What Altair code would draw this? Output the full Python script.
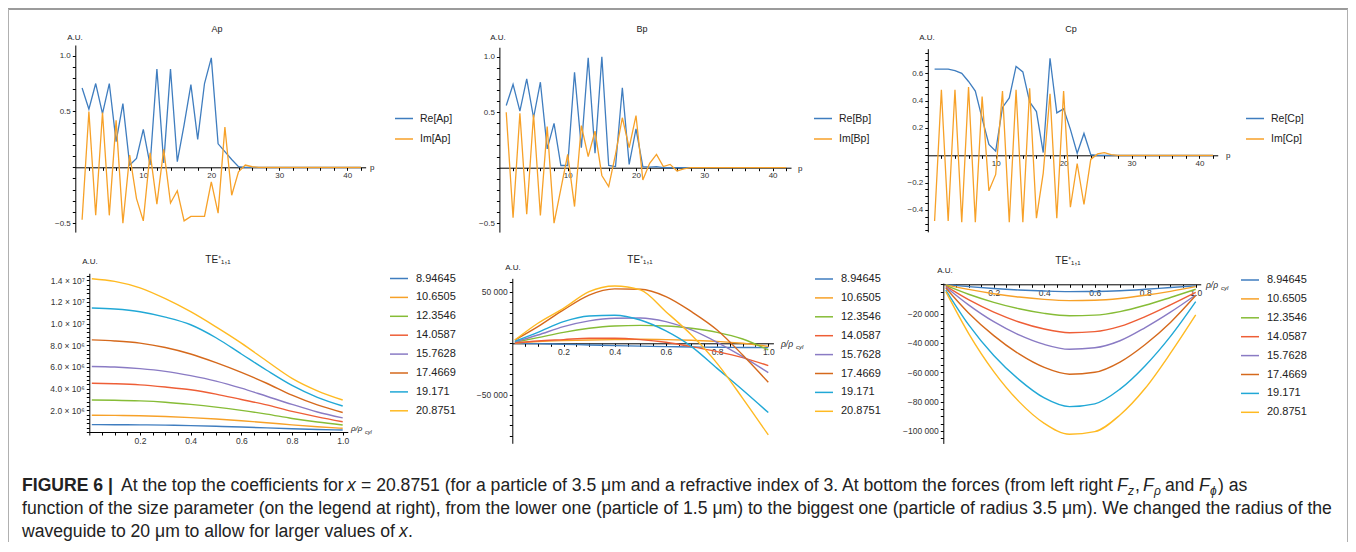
import altair as alt
import pandas as pd

FONT = "Liberation Sans"
W, H = 1340, 534

# ---------------- top row data: coefficients vs p ----------------
p = list(range(1, 43))
ap_re = [0.71, 0.52, 0.75, 0.48, 0.75, 0.23, 0.57, 0.02, 0.08, 0.34,
         0.02, 0.88, 0.04, 0.88, 0.05, 0.38, 0.74, 0.25, 0.75, 0.98,
         0.21, 0.14, 0.07, 0.005, 0, 0, 0, 0, 0, 0,
         0, 0, 0, 0, 0, 0, 0, 0, 0, 0, 0, 0]
ap_im = [-0.47, 0.50, -0.43, 0.49, -0.43, 0.42, -0.50, 0.11, -0.28, -0.48,
         0.13, -0.33, 0.16, -0.32, -0.21, -0.48, -0.44, -0.44, -0.44, -0.13,
         -0.41, 0.36, -0.25, -0.04, 0.02, 0.005, 0, 0, 0, 0,
         0, 0, 0, 0, 0, 0, 0, 0, 0, 0, 0, 0]
bp_re = [0.56, 0.75, 0.51, 0.80, 0.45, 0.77, 0.17, 0.40, 0.02, 0.02,
         0.86, 0.18, 0.99, 0.13, 1.00, 0.02, 0.01, 0.72, 0.03, 0.35,
         0.01, 0.005, 0.01, 0, 0, 0, 0, 0, 0, 0,
         0, 0, 0, 0, 0, 0, 0, 0, 0, 0, 0, 0]
bp_im = [0.50, -0.45, 0.49, -0.42, 0.48, -0.43, 0.37, -0.50, -0.19, 0.12,
         -0.35, 0.38, 0.10, 0.33, -0.07, -0.17, 0.12, 0.45, 0.18, 0.47,
         -0.11, 0.04, 0.12, 0.01, 0.03, -0.03, -0.01, 0, 0, 0,
         0, 0, 0, 0, 0, 0, 0, 0, 0, 0, 0, 0]
cp_re = [0.63, 0.63, 0.63, 0.62, 0.60, 0.54, 0.47, 0.27, 0.08, 0.03,
         0.35, 0.42, 0.65, 0.61, 0.39, 0.32, 0.02, 0.71, 0.31, 0.34,
         0.19, 0.015, 0.16, 0.005, 0, 0, 0, 0, 0, 0,
         0, 0, 0, 0, 0, 0, 0, 0, 0, 0, 0, 0]
cp_im = [-0.48, 0.48, -0.48, 0.48, -0.49, 0.50, -0.49, 0.43, -0.26, -0.14,
         0.47, -0.49, 0.48, -0.49, 0.49, -0.46, -0.13, 0.45, -0.46, 0.47,
         -0.38, -0.06, -0.36, -0.03, 0.01, 0.02, 0.005, 0, 0, 0,
         0, 0, 0, 0, 0, 0, 0, 0, 0, 0, 0, 0]

# ---------------- bottom row data: forces vs rho/rho_cyl ----------------
size_params = ["8.94645", "10.6505", "12.3546", "14.0587",
               "15.7628", "17.4669", "19.171", "20.8751"]
rho = [0.01, 0.1, 0.2, 0.3, 0.4, 0.5, 0.6, 0.7, 0.8, 0.9, 1.0]

# F_z in units of 1e6
fz_1 = [0.68, 0.67, 0.66, 0.63, 0.59, 0.53, 0.46, 0.38, 0.30, 0.23, 0.18]
fz_2 = [1.54, 1.53, 1.50, 1.43, 1.33, 1.20, 1.04, 0.86, 0.66, 0.48, 0.34]
fz_3 = [2.95, 2.93, 2.87, 2.75, 2.55, 2.30, 2.00, 1.65, 1.25, 0.92, 0.65]
fz_4 = [4.50, 4.45, 4.35, 4.15, 3.90, 3.50, 3.00, 2.50, 1.90, 1.40, 0.95]
fz_5 = [6.05, 6.00, 5.85, 5.60, 5.20, 4.70, 4.05, 3.30, 2.55, 1.85, 1.30]
fz_6 = [8.50, 8.40, 8.20, 7.80, 7.20, 6.40, 5.50, 4.50, 3.40, 2.50, 1.80]
fz_7 = [11.45, 11.35, 11.10, 10.60, 9.90, 8.70, 7.20, 5.70, 4.30, 3.20, 2.40]
fz_8 = [14.15, 13.90, 13.30, 12.30, 11.10, 9.70, 8.20, 6.55, 4.95, 3.80, 2.95]

fr_1 = [0, -300, -1000, -1600, -2300, -2800, -3200, -3600, -3900, -4100, -4200]
fr_2 = [0, 1600, 2600, 3200, 3600, 3900, 3600, 2900, 1900, 0, -3000]
fr_3 = [1000, 5500, 10700, 14600, 16900, 17500, 16900, 14600, 10700, 4200, -6500]
fr_4 = [300, 2300, 3600, 4900, 4900, 3600, 1000, -3200, -8100, -14000, -21800]
fr_5 = [1500, 8100, 16200, 21800, 24400, 24700, 21100, 13000, 1000, -13000, -28600]
fr_6 = [3200, 16200, 32500, 47000, 53000, 52600, 45500, 30800, 13000, -11400, -38000]
fr_7 = [2000, 10700, 21100, 26600, 27300, 22700, 12000, -3200, -24400, -45500, -67500]
fr_8 = [3200, 19500, 34000, 50300, 55800, 52000, 30800, 8100, -19500, -53600, -89300]

fp_1 = [-200, -1600, -2900, -3900, -4600, -5000, -4900, -4400, -3400, -2200, -1100]
fp_2 = [-400, -3500, -6400, -8700, -10300, -11100, -10900, -9700, -7500, -4800, -1600]
fp_3 = [-800, -6800, -12300, -16700, -19800, -21400, -21000, -18600, -14300, -9000, -3400]
fp_4 = [-1300, -10500, -19000, -25700, -30500, -33000, -32300, -28700, -22000, -14000, -5500]
fp_5 = [-1800, -14000, -25500, -34500, -41000, -44300, -43300, -38500, -29500, -19000, -7300]
fp_6 = [-2500, -19500, -35000, -47500, -56700, -61300, -60000, -53000, -41000, -26000, -7700]
fp_7 = [-3900, -27500, -48500, -65000, -77500, -83400, -81500, -71500, -55500, -35500, -11800]
fp_8 = [-5000, -33400, -59500, -80000, -94800, -102300, -100500, -89100, -70900, -47000, -20900]

top_colors = ["#3F7DBF", "#F7A128"]
palette = ["#3F7DBF", "#F7A128", "#86BC36", "#EE5E36", "#8A7BC4",
           "#D5691C", "#21A8D6", "#FFBA22"]


def px(v):
    """page pixel -> chart group pixel (page has 8px margin)"""
    return v - 8


def txt(t, x, y, size=9, align="center", weight="normal", style="normal",
        color="#222222", baseline="middle", font=FONT):
    return alt.Chart(pd.DataFrame({"t": [t]})).mark_text(
        align=align, baseline=baseline, fontSize=size, fontWeight=weight,
        fontStyle=style, color=color, font=font
    ).encode(x=alt.value(px(x)), y=alt.value(px(y)), text="t:N")


def axis_common():
    return dict(domainColor="black", tickColor="black", tickSize=3, grid=False,
                labelFont=FONT, labelColor="#333333", labelOverlap=False,
                labelFlush=False, title=None)


def top_panel(name, re, im, x0, unit_x, y0, unit_y, ydom, yvals, ymaj, legx, legy):
    labels = ["Re[%s]" % name, "Im[%s]" % name]
    df = pd.DataFrame({
        "p": p + p,
        "v": re + im,
        "s": [labels[0]] * len(p) + [labels[1]] * len(p),
    })
    xdom = [0, 42.7]
    xr = [px(x0), px(x0 + xdom[1] * unit_x)]
    yr = [px(y0 - ydom[0] * unit_y), px(y0 - ydom[1] * unit_y)]
    xax = alt.Axis(orient="bottom", offset=-(H - px(y0)),
                   values=list(range(2, 43, 2)),
                   labelExpr="datum.value % 10 === 0 ? datum.label : ''",
                   labelFontSize=8, labelPadding=1, **axis_common())
    yax = alt.Axis(orient="left", offset=-px(x0), values=yvals,
                   labelExpr="abs(datum.value/%s - round(datum.value/%s)) < 1e-6 && abs(datum.value) > 1e-9 ? format(datum.value, '.1f') : ''" % (ymaj, ymaj),
                   labelFontSize=8, labelPadding=2, **axis_common())
    return alt.Chart(df).mark_line(strokeWidth=1.3).encode(
        x=alt.X("p:Q", scale=alt.Scale(domain=xdom, range=xr, nice=False, zero=False), axis=xax),
        y=alt.Y("v:Q", scale=alt.Scale(domain=ydom, range=yr, nice=False, zero=False), axis=yax),
        color=alt.Color("s:N", scale=alt.Scale(domain=labels, range=top_colors),
                        legend=alt.Legend(orient="none", legendX=px(legx), legendY=px(legy),
                                          title=None, symbolType="stroke", symbolSize=324,
                                          symbolStrokeWidth=1.5, labelFontSize=10.5,
                                          labelFont=FONT, labelColor="#222222",
                                          labelOffset=6, rowPadding=4.5, padding=0)),
        order=alt.Order("p:Q"),
    )


def bottom_panel(series, x0, unit_x, y0, unit_y, ydom, yaxis_kw, legx, legy, scale_factor=1.0):
    rows_x, rows_v, rows_s = [], [], []
    for name, vals in zip(size_params, series):
        rows_x += rho
        rows_v += [v * scale_factor for v in vals]
        rows_s += [name] * len(rho)
    df = pd.DataFrame({"r": rows_x, "v": rows_v, "s": rows_s})
    xdom = [0, 1.02]
    xr = [px(x0), px(x0 + xdom[1] * unit_x)]
    yr = [px(y0 - ydom[0] * unit_y), px(y0 - ydom[1] * unit_y)]
    xax = alt.Axis(orient="bottom", offset=-(H - px(y0)),
                   values=[round(0.05 * i, 2) for i in range(1, 21)],
                   labelExpr="abs(datum.value*5 - round(datum.value*5)) < 1e-6 ? format(datum.value, '.1f') : ''",
                   labelFontSize=8.5, labelPadding=1, **axis_common())
    yax = alt.Axis(orient="left", offset=-px(x0), labelFontSize=8.5, labelPadding=2,
                   **yaxis_kw, **axis_common())
    return alt.Chart(df).mark_line(strokeWidth=1.4, interpolate="monotone").encode(
        x=alt.X("r:Q", scale=alt.Scale(domain=xdom, range=xr, nice=False, zero=False), axis=xax),
        y=alt.Y("v:Q", scale=alt.Scale(domain=ydom, range=yr, nice=False, zero=False), axis=yax),
        color=alt.Color("s:N", scale=alt.Scale(domain=size_params, range=palette),
                        legend=alt.Legend(orient="none", legendX=px(legx), legendY=px(legy),
                                          title=None, symbolType="stroke", symbolSize=324,
                                          symbolStrokeWidth=1.5, labelFontSize=11,
                                          labelFont=FONT, labelColor="#222222",
                                          labelOffset=7, rowPadding=3.9, padding=0)),
        order=alt.Order("r:Q"),
    )


ap = top_panel("Ap", ap_re, ap_im, 75.3, 6.8, 167.3, 111.7, [-0.58, 1.095],
               [round(0.1 * i, 2) for i in range(-5, 11)], 0.5, 394, 108.5)
bp = top_panel("Bp", bp_re, bp_im, 499.4, 6.83, 167.7, 111.0, [-0.58, 1.085],
               [round(0.1 * i, 2) for i in range(-5, 11)], 0.5, 813, 108.5)
cp = top_panel("Cp", cp_re, cp_im, 927.8, 6.79, 155.3, 136.7, [-0.56, 0.78],
               [round(0.05 * i, 2) for i in range(-11, 16)], 0.2, 1245, 108.5)

fz_axis = dict(values=[i * 400000 for i in range(0, 37)],
               labelExpr="datum.value > 0 && round(datum.value/100000) % 20 === 0 ? (datum.value >= 1e7 ? format(datum.value/1e7, '.1f') + ' × 10⁷' : format(datum.value/1e6, '.1f') + ' × 10⁶') : ''")
fr_axis = dict(values=[i * 10000 for i in range(-9, 7)],
               labelExpr="datum.value !== 0 && round(datum.value/10000) % 5 === 0 ? replace(format(datum.value, ','), ',', ' ') : ''")
fp_axis = dict(values=[i * 5000 for i in range(-21, 1)],
               labelExpr="datum.value !== 0 && round(datum.value/5000) % 4 === 0 ? replace(format(datum.value, ','), ',', ' ') : ''")

fz_panel = bottom_panel([fz_1, fz_2, fz_3, fz_4, fz_5, fz_6, fz_7, fz_8],
                        89.3, 253.4, 432.0, 10.835e-6, [-0.28e6, 14.65e6], fz_axis,
                        389, 268.5, scale_factor=1e6)
fr_panel = bottom_panel([fr_1, fr_2, fr_3, fr_4, fr_5, fr_6, fr_7, fr_8],
                        512.3, 256.0, 343.3, 51.33 / 50000, [-97400, 63300], fr_axis,
                        814, 269)
fp_panel = bottom_panel([fp_1, fp_2, fp_3, fp_4, fp_5, fp_6, fp_7, fp_8],
                        943.3, 252.4, 284.3, 29.33 / 20000, [-108500, 800], fp_axis,
                        1240, 270)

TE = "TE⁺₁,₁"
texts = [
    txt("Ap", 217, 29, size=9), txt("Bp", 642, 29, size=9), txt("Cp", 1071, 29, size=9),
    txt("A.U.", 75, 38, size=8), txt("A.U.", 498, 38, size=8), txt("A.U.", 927, 38, size=8),
    txt("p", 370, 168, size=8, align="left"), txt("p", 798, 169, size=8, align="left"),
    txt("p", 1226, 156, size=8, align="left"),
    txt(TE, 218, 260, size=10), txt(TE, 640, 260, size=10), txt(TE, 1068, 261, size=10),
    txt("A.U.", 90, 262, size=8), txt("A.U.", 513, 268, size=8), txt("A.U.", 945, 271, size=8),
    txt("ρ/ρ", 351, 429, size=8, align="left", style="italic"),
    txt("cyl", 365, 432, size=5.5, align="left", style="italic"),
    txt("ρ/ρ", 781, 344, size=8.5, align="left", style="italic"),
    txt("cyl", 796, 347, size=6, align="left", style="italic"),
    txt("ρ/ρ", 1206, 285, size=8.5, align="left", style="italic"),
    txt("cyl", 1221, 288, size=6, align="left", style="italic"),
]

CF = FONT
CS = 17.6
SUB = 12
L1, L2, L3 = 486, 509, 532
D = 18  # shift of the rest of line 1 after the italic x
caption = [
    txt("FIGURE 6 |", 22, L1, size=CS, align="left", weight="bold", font=CF),
    txt("At the top the coefficients for", 121, L1, size=CS, align="left", font=CF),
    txt("x", 347, L1, size=CS, align="left", style="italic", font=CF),
    txt("= 20.8751 (for a particle of 3.5 μm and a refractive index of 3. At bottom the forces (from left right",
        343 + D, L1, size=CS, align="left", font=CF),
    txt("F", 1099 + D, L1, size=CS, align="left", style="italic", font=CF),
    txt("z", 1110 + D, L1 + 5, size=SUB, align="left", style="italic", font=CF),
    txt(",", 1117 + D, L1, size=CS, align="left", font=CF),
    txt("F", 1125 + D, L1, size=CS, align="left", style="italic", font=CF),
    txt("ρ", 1136 + D, L1 + 5, size=SUB, align="left", style="italic", font=CF),
    txt("and", 1147 + D, L1, size=CS, align="left", font=CF),
    txt("F", 1181 + D, L1, size=CS, align="left", style="italic", font=CF),
    txt("ϕ", 1192 + D, L1 + 5, size=SUB, align="left", style="italic", font=CF),
    txt(") as", 1200 + D, L1, size=CS, align="left", font=CF),
    txt("function of the size parameter (on the legend at right), from the lower one (particle of 1.5 μm) to the biggest one (particle of radius 3.5 μm). We changed the radius of the",
        22, L2, size=CS, align="left", font=CF),
    txt("waveguide to 20 μm to allow for larger values of", 22, L3, size=CS, align="left", font=CF),
    txt("x", 399, L3, size=CS, align="left", style="italic", font=CF),
    txt(".", 408, L3, size=CS, align="left", font=CF),
]

frame_top = alt.Chart(pd.DataFrame({"a": [0]})).mark_rule(color="#9b9b9b", strokeWidth=2).encode(
    x=alt.value(0), x2=alt.value(W), y=alt.value(1))
frame_left = alt.Chart(pd.DataFrame({"a": [0]})).mark_rule(color="#b0b0b0", strokeWidth=1).encode(
    x=alt.value(0.5), y=alt.value(1), y2=alt.value(H))
frame_right = alt.Chart(pd.DataFrame({"a": [0]})).mark_rule(color="#b0b0b0", strokeWidth=1).encode(
    x=alt.value(W - 0.5), y=alt.value(1), y2=alt.value(H))

chart = alt.layer(
    ap, bp, cp, fz_panel, fr_panel, fp_panel, frame_top, frame_left, frame_right,
    *texts, *caption
).resolve_scale(
    x="independent", y="independent", color="independent"
).properties(
    width=W, height=H, autosize=alt.AutoSizeParams(type="none"), padding=0,
    background="white"
).configure_view(stroke=None)

chart.save("out.html", embed_options={"renderer": "svg", "actions": False})
